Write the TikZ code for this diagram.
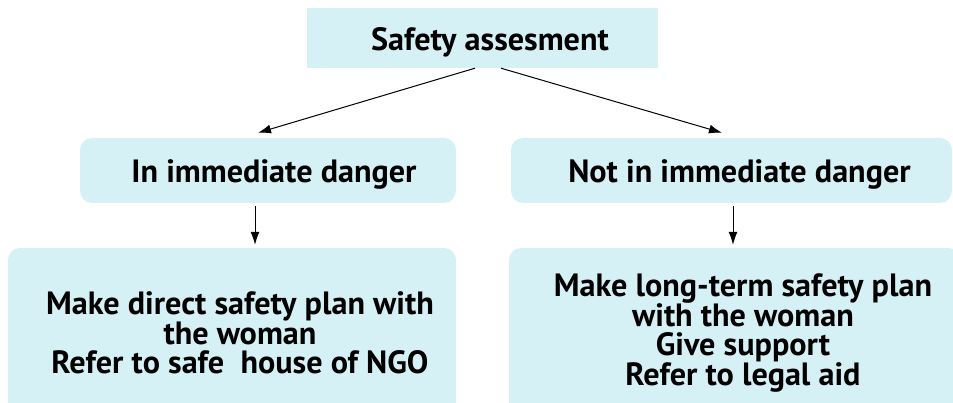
\documentclass[tikz,border=0pt]{standalone}
\usepackage{fontspec}
\setmainfont{PT Sans}
\usepackage{tikz}
\usetikzlibrary{calc,positioning,arrows.meta}
\definecolor{boxcyan}{RGB}{214,241,246}
\tikzset{
	box/.style={fill=boxcyan, inner sep=0pt},
	roundbox/.style={box, rounded corners=12pt},
	txt/.style={align=center, inner sep=0pt, font=\bfseries\fontsize{32.2}{28.8}\selectfont},
	arr/.style={line width=1pt, -{Latex[length=13pt,width=9pt]}},
}

\begin{document}
\begin{tikzpicture}[x=1pt,y=1pt]
		\clip (0,0) rectangle (953,-403);
		\fill[white] (0,0) rectangle (953,-403);
		
		\node[box, minimum width=351, minimum height=60] (assess) at (482.5,-38) {};
		\node[roundbox, minimum width=376, minimum height=65] (danger) at (268,-170.5) {};
		\node[roundbox, minimum width=441, minimum height=65] (nodanger) at (731.5,-170.5) {};
		\node[roundbox, minimum width=448, minimum height=168] (direct) at (232,-332) {};
		\node[roundbox, minimum width=451, minimum height=168] (longterm) at (734.5,-332) {};
		
		\node[txt] (assesstxt) at ($(assess)+(7.5,-4)$) {Safety assesment};
		\node[txt] (dangertxt) at ($(danger)+(6,-4)$) {In immediate danger};
		\node[txt] (nodangertxt) at ($(nodanger)+(8,-4)$) {Not in immediate danger};
		\node[txt] (directtxt) at ($(direct)+(8,-1)$) {Make direct safety plan with\\the woman\\Refer to safe\ \ house of NGO};
		\node[txt] (longtermtxt) at ($(longterm)+(8.5,-1)$) {Make long-term safety plan\\with the woman\\Give support\\Refer to legal aid};
		
		\draw[arr] ([xshift=-7.5]assess.south) -- ($(danger.north)+(-10,5)$);
		\draw[arr] ([xshift=18.5]assess.south) -- ($(nodanger.north)+(-9.5,5)$);
		\draw[arr] ($(danger.south)+(-13,-3)$) -- ($(direct.north)+(23,3)$);
		\draw[arr] ($(nodanger.south)+(1.5,-3)$) -- ($(longterm.north)+(-1.5,3)$);
	\end{tikzpicture}
\end{document}
